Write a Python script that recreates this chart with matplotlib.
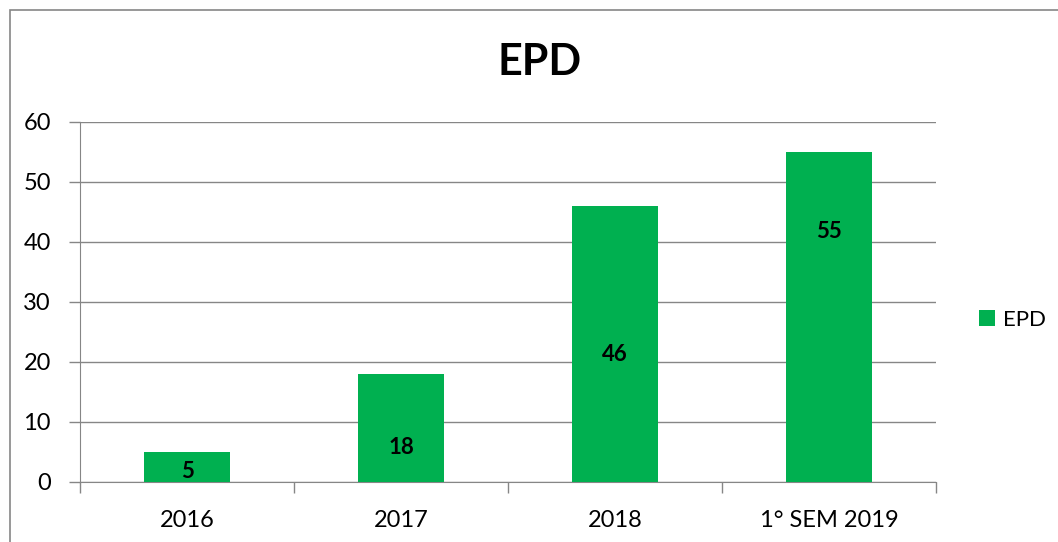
import matplotlib.pyplot as plt
from matplotlib.patches import Rectangle

# chart data
categories = ['2016', '2017', '2018', '1° SEM 2019']
values = [5, 18, 46, 55]
label_pos = [1.7, 5.8, 21.3, 41.7]   # where the value labels sit (data units)

bar_color = '#00B050'
grid_color = '#868686'

plt.rcParams['font.family'] = ['Lato', 'DejaVu Sans']

fig = plt.figure(figsize=(10.58, 5.42), dpi=100)
ax = fig.add_axes([80 / 1058, 1 - 482 / 542, 856 / 1058, 360 / 542])

x = range(len(categories))
bars = ax.bar(x, values, width=0.4, color=bar_color, label='EPD', zorder=3)

for xi, v, ly in zip(x, values, label_pos):
    ax.text(xi, ly, str(v), ha='center', va='center',
            fontsize=16, fontweight='bold', color='black', zorder=4)

ax.set_xlim(-0.5, len(categories) - 0.5)
ax.set_ylim(0, 60)
ax.set_yticks(range(0, 61, 10))
ax.yaxis.grid(True, color=grid_color, linewidth=1)
ax.set_axisbelow(True)

# category labels centred, tick marks on category boundaries
ax.set_xticks(list(x))
ax.set_xticklabels(categories, fontsize=17)
ax.tick_params(axis='x', length=0, pad=20)
ax.set_xticks([i - 0.5 for i in range(len(categories) + 1)], minor=True)
ax.tick_params(axis='x', which='minor', length=8, color=grid_color, width=1)
ax.tick_params(axis='y', length=8, color=grid_color, width=1, labelsize=17, pad=13)

for side in ['top', 'right']:
    ax.spines[side].set_visible(False)
ax.spines['left'].set_color(grid_color)
ax.spines['bottom'].set_color(grid_color)

fig.text(540 / 1058, 1 - 62 / 542, 'EPD', ha='center', va='center',
         fontsize=31, fontweight='bold')

fig.legend(handles=[bars], labels=['EPD'], loc='center left',
           bbox_to_anchor=(959 / 1058, 1 - 320 / 542), frameon=False,
           fontsize=16, handlelength=0.7, handleheight=0.7, handletextpad=0.4)

# outer chart frame (only left and top edges are visible in the crop)
fig.add_artist(Rectangle((10 / 1058, -0.1), 1.2, 1 - 10 / 542 + 0.1,
                         transform=fig.transFigure, fill=False,
                         edgecolor=grid_color, linewidth=1.2))

fig.savefig('out.png', dpi=100)
